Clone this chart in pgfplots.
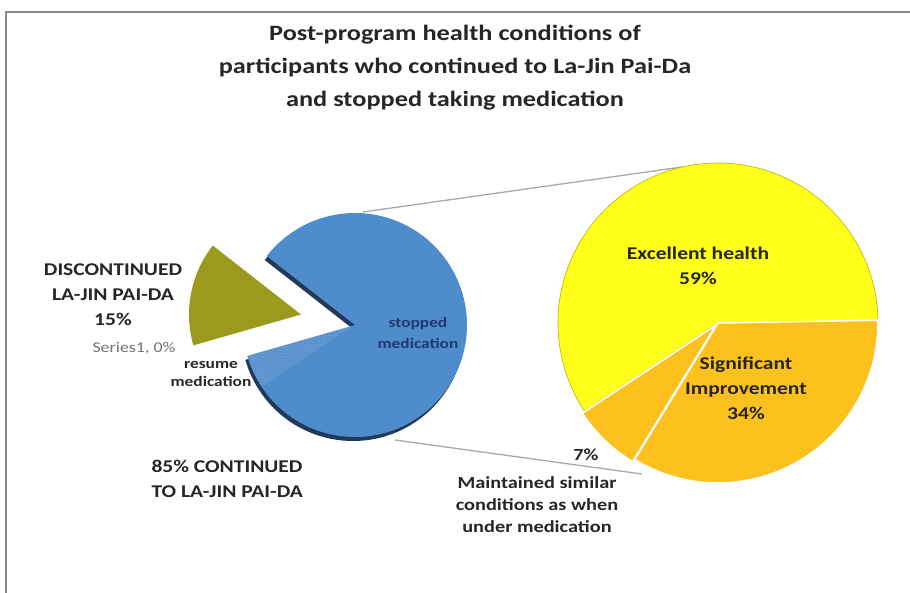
\documentclass[border=0pt]{standalone}
\usepackage{pgfplots}
\pgfplotsset{compat=1.18}
\usepackage{fontspec}
\setmainfont{Carlito}[FakeStretch=1.2]
\usetikzlibrary{calc,patterns}

\definecolor{bluec}{HTML}{4F8CCB}
\definecolor{shadowc}{HTML}{22395A}
\definecolor{olivec}{HTML}{999A1E}
\definecolor{yellowc}{HTML}{FFFF1A}
\definecolor{orangec}{HTML}{FDC11E}
\definecolor{navyc}{HTML}{1F3A6B}
\definecolor{txt}{HTML}{262626}
\definecolor{linec}{HTML}{A8A8A8}

% one pie slice: centre x, centre y (px, y down), radius, start angle, percent, style, explode
\newcommand{\slice}[7]{%
  \pgfmathsetmacro\sa{#4}\pgfmathsetmacro\da{3.6*#5}\pgfmathsetmacro\ma{#4+1.8*#5}%
  \edef\temp{\noexpand\path[#6] ($(axis cs:#1,#2)+(\ma:#7bp)$) -- ++(\sa:#3bp)
    arc[start angle=\sa, delta angle=\da, radius=#3bp] -- cycle;}\temp}

\begin{document}
\begin{tikzpicture}
\begin{axis}[
  scale only axis, width=910bp, height=593bp,
  xmin=0, xmax=910, ymin=0, ymax=593, y dir=reverse,
  hide axis, clip=false]

  % frame
  \draw[black!45, line width=2bp] (axis cs:6,593) -- (axis cs:6,12) -- (axis cs:910,12);

  % title
  \node[txt, font=\bfseries\fontsize{22}{33}\selectfont, align=center] at (axis cs:455,68)
    {Post-program health conditions of\\participants who continued to La-Jin Pai-Da\\and stopped taking medication};

  % connector lines
  \draw[linec, line width=1.3bp] (axis cs:363,212) -- (axis cs:682,167);
  \draw[linec, line width=1.3bp] (axis cs:395,440) -- (axis cs:642,474);

  % left pie: discontinued 15, resume medication 5, stopped medication 80
  \slice{355}{325}{112}{196}{5}{fill=shadowc, shift={(-2bp,-4bp)}}{0}
  \slice{355}{325}{112}{196+3.6*5}{80}{fill=shadowc, shift={(-2bp,-4bp)}}{0}
  \slice{355}{325}{112}{142}{15}{fill=olivec}{55}
  \slice{355}{325}{112}{196}{5}{fill=bluec!94!white}{0}
  \slice{355}{325}{112}{196}{5}{pattern=dots, pattern color=white!35!bluec}{0}
  \slice{355}{325}{112}{196+3.6*5}{80}{fill=bluec}{0}

  % right pie: excellent 59, maintained 7, significant 34
  \slice{718}{323}{160}{1}{59}{fill=yellowc, draw=yellowc!70!black, line width=0.6bp}{0}
  \slice{718}{323}{160}{1+3.6*59}{7}{fill=orangec, draw=white, line width=1.6bp}{3}
  \slice{718}{323}{160}{1+3.6*66}{34}{fill=orangec, draw=white, line width=1.6bp}{0}

  % labels
  \begin{scope}[every node/.style={txt, font=\bfseries\fontsize{18}{25}\selectfont, align=center}]
    \node at (axis cs:113,295) {DISCONTINUED\\LA-JIN PAI-DA\\15\%};
    \node[align=left, anchor=west] at (axis cs:148,479) {85\% CONTINUED\\TO LA-JIN PAI-DA};
    \node at (axis cs:698,266) {Excellent health\\59\%};
    \node at (axis cs:746,388) {Significant\\Improvement\\34\%};
    \node[font=\bfseries\fontsize{17}{22}\selectfont] at (axis cs:537,505) {Maintained similar\\conditions as when\\under medication};
    \node[font=\bfseries\fontsize{17}{22}\selectfont] at (axis cs:586,455) {7\%};
    \node[font=\bfseries\fontsize{14.5}{21}\selectfont, navyc] at (axis cs:418,333) {stopped\\medication};
    \node[font=\bfseries\fontsize{14.5}{18}\selectfont] at (axis cs:211,374) {resume\\medication};
    \node[font=\fontsize{15}{17}\selectfont, black!55] at (axis cs:134,348) {Series1, 0\%};
  \end{scope}
\end{axis}
\pgfresetboundingbox
\useasboundingbox (0,0) rectangle (910bp,593bp);
\end{tikzpicture}
\end{document}
